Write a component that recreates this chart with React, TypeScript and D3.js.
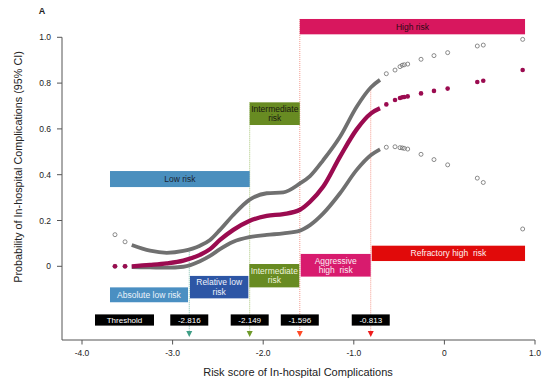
import React from "react";
import * as d3 from "d3";

// ---- data ----
const denseX = [-3.451, -3.249, -3.065, -2.882, -2.698, -2.587, -2.477, -2.330, -2.153, -1.961, -1.778, -1.594, -1.483, -1.337, -1.152, -0.968, -0.810, -0.711];
const denseUpper = [0.093, 0.068, 0.059, 0.067, 0.09, 0.115, 0.159, 0.224, 0.290, 0.319, 0.323, 0.362, 0.394, 0.464, 0.566, 0.697, 0.782, 0.814];
const denseEst = [0.0, 0.006, 0.013, 0.025, 0.05, 0.075, 0.115, 0.159, 0.198, 0.220, 0.228, 0.247, 0.282, 0.348, 0.479, 0.598, 0.668, 0.690];
const denseLower = [-0.004, -0.005, -0.006, -0.002, 0.022, 0.045, 0.075, 0.107, 0.127, 0.137, 0.144, 0.156, 0.180, 0.231, 0.319, 0.421, 0.486, 0.511];

const sparseX = [-3.636, -3.525, -0.641, -0.545, -0.490, -0.465, -0.443, -0.405, -0.258, -0.115, 0.036, 0.363, 0.429, 0.864];
const sparseUpper = [0.138, 0.107, 0.841, 0.857, 0.872, 0.878, 0.880, 0.883, 0.904, 0.920, 0.933, 0.962, 0.966, 0.991];
const sparseEst = [0.0, 0.0, 0.707, 0.726, 0.735, 0.738, 0.739, 0.742, 0.755, 0.766, 0.776, 0.805, 0.810, 0.857];
const sparseLower = [0.0, 0.0, 0.520, 0.522, 0.518, 0.517, 0.515, 0.512, 0.489, 0.466, 0.443, 0.385, 0.366, 0.163];

const thresholds = [-2.816, -2.149, -1.596, -0.813];
const thresholdLabels = ["-2.816", "-2.149", "-1.596", "-0.813"];
const thresholdLineTop = [0.07, 0.716, 1.08, 0.78];
const thresholdColors = ["#3f9e86", "#6f9a2a", "#ff4a26", "#ee1c1c"];
const thresholdLineColors = ["#7fbfae", "#a9c77a", "#f49a8c", "#f49a8c"];

const xTicks = [-4, -3, -2, -1, 0, 1];
const xTickLabels = ["-4.0", "-3.0", "-2.0", "-1.0", "0", "1.0"];
const yTicks = [0, 0.2, 0.4, 0.6, 0.8, 1.0];
const yTickLabels = ["0", "0.2", "0.4", "0.6", "0.8", "1.0"];

// risk group boxes: label lines, x0, x1 (risk score), y0, y1 (probability)
const boxLabels = [
  ["Low risk"],
  ["Intermediate", "risk"],
  ["High risk"],
  ["Absolute low risk"],
  ["Relative low", "risk"],
  ["Intermediate", "risk"],
  ["Aggressive", "high  risk"],
  ["Refractory high  risk"],
];
const boxX0 = [-3.691, -2.149, -1.596, -3.691, -2.808, -2.153, -1.586, -0.802];
const boxX1 = [-2.149, -1.596, 0.890, -2.830, -2.164, -1.602, -0.814, 0.890];
const boxYTop = [0.416, 0.716, 1.080, -0.092, -0.042, 0.010, 0.054, 0.090];
const boxYBot = [0.346, 0.617, 1.013, -0.157, -0.140, -0.092, -0.045, 0.023];
const boxFill = ["#4a8fbe", "#688b22", "#d8175e", "#4a8fc2", "#2d56a5", "#688b22", "#d81b6e", "#e10a0a"];
const boxText = ["#1b2430", "#1a1a10", "#2a0a14", "#eef4fb", "#eef2fb", "#eef4dc", "#fbeef4", "#fdf0f0"];

export default function App() {
  const W = 554, H = 380;
  const x = d3.scaleLinear().domain([-4, 1]).range([82, 535]);
  const y = d3.scaleLinear().domain([0, 1]).range([266.3, 37.3]);
  const font = "'Liberation Sans', Arial, sans-serif";

  const line = d3
    .line<[number, number]>()
    .x((d) => x(d[0]))
    .y((d) => y(d[1]))
    .curve(d3.curveMonotoneX);
  const mk = (ys: number[]) => denseX.map((v, i) => [v, ys[i]] as [number, number]);

  return (
    <svg width={W} height={H} style={{ position: "absolute", left: 0, top: 0, background: "#fff" }} fontFamily={font}>
      {/* threshold dotted lines */}
      {thresholds.map((t, i) => (
        <line key={"tl" + i} x1={x(t)} x2={x(t)} y1={y(thresholdLineTop[i])} y2={y(-0.282)}
          stroke={thresholdLineColors[i]} strokeWidth={1} strokeDasharray="1,1" />
      ))}
      {/* arrows */}
      {thresholds.map((t, i) => (
        <path key={"ar" + i}
          d={`M${x(t) - 3},${y(-0.282)} L${x(t) + 3},${y(-0.282)} L${x(t)},${y(-0.309)} Z`}
          fill={thresholdColors[i]} />
      ))}

      {/* boxes */}
      {boxLabels.map((lab, i) => {
        const x0 = x(boxX0[i]), x1 = x(boxX1[i]);
        const y0 = y(boxYTop[i]), y1 = y(boxYBot[i]);
        const cx = (x0 + x1) / 2, cy = (y0 + y1) / 2;
        const lh = 9.5;
        return (
          <g key={"b" + i}>
            <rect x={x0} y={y0} width={x1 - x0} height={y1 - y0} fill={boxFill[i]} />
            <text x={cx} textAnchor="middle" fontSize={8.5} fill={boxText[i]} style={{ whiteSpace: "pre" }}>
              {lab.map((s, j) => (
                <tspan key={j} x={cx} y={cy + 3 + (j - (lab.length - 1) / 2) * lh}>{s}</tspan>
              ))}
            </text>
          </g>
        );
      })}

      {/* threshold label boxes */}
      <rect x={95} y={y(-0.21)} width={59} height={y(-0.259) - y(-0.21)} fill="#000" />
      <text x={124.5} y={y(-0.21) + 8.5} textAnchor="middle" fontSize={8} fill="#fff">Threshold</text>
      {thresholds.map((t, i) => (
        <g key={"tb" + i}>
          <rect x={x(t) - 19} y={y(-0.21)} width={38} height={y(-0.259) - y(-0.21)} fill="#000" />
          <text x={x(t)} y={y(-0.21) + 8.5} textAnchor="middle" fontSize={8} fill="#fff">{thresholdLabels[i]}</text>
        </g>
      ))}

      {/* dense curves */}
      <path d={line(mk(denseUpper)) || ""} fill="none" stroke="#707070" strokeWidth={3.8} />
      <path d={line(mk(denseLower)) || ""} fill="none" stroke="#707070" strokeWidth={3.8} />
      <path d={line(mk(denseEst)) || ""} fill="none" stroke="#9b0b50" strokeWidth={4.3} />

      {/* sparse points */}
      {sparseX.map((v, i) => (
        <g key={"sp" + i}>
          <circle cx={x(v)} cy={y(sparseUpper[i])} r={2} fill="none" stroke="#6e6e6e" strokeWidth={0.8} />
          <circle cx={x(v)} cy={y(sparseLower[i])} r={2} fill="none" stroke="#6e6e6e" strokeWidth={0.8} />
          <circle cx={x(v)} cy={y(sparseEst[i])} r={2.3} fill="#9b0b50" />
        </g>
      ))}

      {/* axes */}
      <line x1={62} x2={62} y1={37.3} y2={340} stroke="#555" strokeWidth={1} />
      <line x1={62} x2={535} y1={340} y2={340} stroke="#555" strokeWidth={1} />
      {yTicks.map((t, i) => (
        <g key={"yt" + i}>
          <line x1={57} x2={62} y1={y(t)} y2={y(t)} stroke="#555" />
          <text x={51} y={y(t) + 3} textAnchor="end" fontSize={8.5} fill="#222">{yTickLabels[i]}</text>
        </g>
      ))}
      {xTicks.map((t, i) => (
        <g key={"xt" + i}>
          <line x1={x(t)} x2={x(t)} y1={340} y2={344.5} stroke="#555" />
          <text x={x(t)} y={356} textAnchor="middle" fontSize={8.5} fill="#222">{xTickLabels[i]}</text>
        </g>
      ))}
      <text x={298} y={375.5} textAnchor="middle" fontSize={11} fill="#222">Risk score of In-hospital Complications</text>
      <text transform="translate(22,167) rotate(-90)" textAnchor="middle" fontSize={10.8} fill="#222">
        Probability of In-hospital Complications (95% CI)
      </text>
      <text x={42} y={14} textAnchor="middle" fontSize={9} fontWeight="bold" fill="#222">A</text>
    </svg>
  );
}
